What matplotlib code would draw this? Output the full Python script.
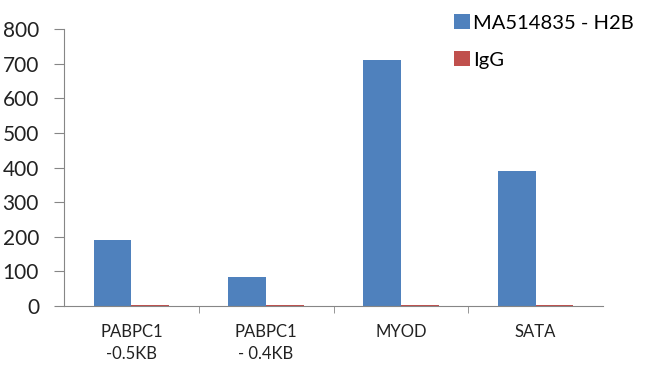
import numpy as np
import matplotlib.pyplot as plt

categories = ['PABPC1\n-0.5KB', 'PABPC1\n- 0.4KB', 'MYOD', 'SATA']
h2b_values = [191, 83, 710, 390]
igg_values = [4, 3, 4, 3]

plt.rcParams['font.family'] = ['Lato', 'DejaVu Sans']

fig = plt.figure(figsize=(6.5, 3.92), dpi=100)
ax = fig.add_axes([64 / 650, 86 / 392, (603 - 64) / 650, (306 - 29) / 392])

x = np.arange(len(categories))
width = 0.28
ax.bar(x - width / 2, h2b_values, width, color='#4F81BD', label='MA514835 - H2B')
ax.bar(x + width / 2, igg_values, width, color='#C0504D', label='IgG')

ax.set_xlim(-0.5, len(categories) - 0.5)
ax.set_ylim(0, 800)
ax.set_yticks(range(0, 801, 100))

ax.set_xticks(x)
ax.set_xticklabels(categories, fontsize=12, color='#222222', linespacing=1.45)
ax.set_xticks(np.arange(0.5, len(categories) - 0.5, 1), minor=True)
ax.tick_params(axis='x', which='major', length=0, pad=13)
ax.tick_params(axis='x', which='minor', length=5, color='#868686', direction='out')
ax.tick_params(axis='y', length=7, color='#868686', labelsize=15, labelcolor='#222222', pad=11)

for side in ['top', 'right']:
    ax.spines[side].set_visible(False)
for side in ['left', 'bottom']:
    ax.spines[side].set_color('#868686')

fig.legend(loc='upper left', bbox_to_anchor=(446 / 650, 1 - 6 / 392), frameon=False,
           fontsize=14.5, handlelength=0.8, handleheight=0.8, handletextpad=0.15,
           labelspacing=0.95, borderaxespad=0)

fig.savefig('out.png', dpi=100)
